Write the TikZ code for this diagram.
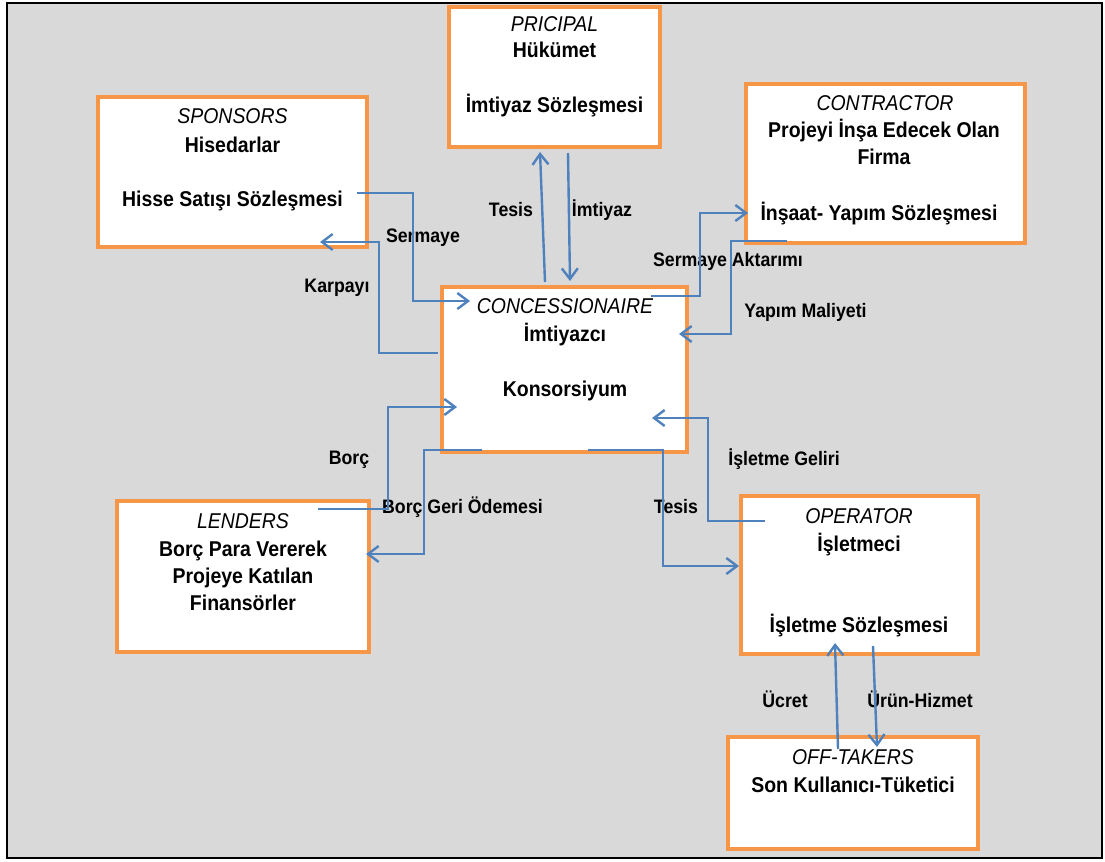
\documentclass[tikz,border=0pt]{standalone}
\usepackage{fontspec}
\setmainfont{Liberation Sans}
\usetikzlibrary{arrows.meta,fit}
\definecolor{bgGray}{HTML}{D9D9D9}
\definecolor{boxOrange}{HTML}{F79646}
\definecolor{flowBlue}{HTML}{4F81BD}
\newcommand\vstr[1]{\scalebox{1}[1.1]{#1}}
\begin{document}
\begin{tikzpicture}[x=0.75pt,y=-0.75pt,
  frame/.style={draw=black, line width=2.2pt, fill=bgGray, inner sep=0pt},
  party/.style={draw=boxOrange, line width=3pt, fill=white, inner sep=0pt},
  headtext/.style={anchor=base, inner sep=0pt, font=\fontsize{14.6pt}{16pt}\selectfont\itshape},
  bodytext/.style={anchor=base, inner sep=0pt, font=\fontsize{14.6pt}{16pt}\selectfont\bfseries},
  flowlabel/.style={anchor=base, inner sep=0pt, font=\fontsize{13.3pt}{15pt}\selectfont\bfseries},
  flow/.style={draw=flowBlue, line width=1.8pt, -{Straight Barb[length=8pt,width=12pt]}}
]
\useasboundingbox (0,0) rectangle (1105,862);
\fill[white] (0,0) rectangle (1105,862);
\node[frame, fit={(7,3) (1102,858)}] (bg) {};

% boxes
\node[party, fit={(449,7) (660,147)}] (pr) {};
\node[party, fit={(98,97) (367,247)}] (sp) {};
\node[party, fit={(746,84) (1025,243)}] (co) {};
\node[party, fit={(442,287) (687,452)}] (cc) {};
\node[party, fit={(117,501) (369,652)}] (le) {};
\node[party, fit={(741,496) (978,654)}] (op) {};
\node[party, fit={(728,737) (978,849)}] (ot) {};

% box texts
\node[headtext] (pr1) at (554.5,32) {\vstr{PRICIPAL}};
\node[bodytext] (pr2) at (554.5,58) {\vstr{Hükümet}};
\node[bodytext] (pr3) at (554.5,113) {\vstr{İmtiyaz Sözleşmesi}};

\node[headtext] (sp1) at (232.5,124) {\vstr{SPONSORS}};
\node[bodytext] (sp2) at (232.5,153) {\vstr{Hisedarlar}};
\node[bodytext] (sp3) at (232.5,207) {\vstr{Hisse Satışı Sözleşmesi}};

\node[headtext] (co1) at (885,111) {\vstr{CONTRACTOR}};
\node[bodytext] (co2) at (884,138) {\vstr{Projeyi İnşa Edecek Olan}};
\node[bodytext] (co3) at (884,165) {\vstr{Firma}};
\node[bodytext] (co4) at (879,221) {\vstr{İnşaat- Yapım Sözleşmesi}};

\node[headtext] (cc1) at (565,314) {\vstr{CONCESSIONAIRE}};
\node[bodytext] (cc2) at (565,342) {\vstr{İmtiyazcı}};
\node[bodytext] (cc3) at (565,397) {\vstr{Konsorsiyum}};

\node[headtext] (le1) at (243,528) {\vstr{LENDERS}};
\node[bodytext] (le2) at (243,556) {\vstr{Borç Para Vererek}};
\node[bodytext] (le3) at (243,583) {\vstr{Projeye Katılan}};
\node[bodytext] (le4) at (243,610) {\vstr{Finansörler}};

\node[headtext] (op1) at (859,523) {\vstr{OPERATOR}};
\node[bodytext] (op2) at (859,551) {\vstr{İşletmeci}};
\node[bodytext] (op3) at (859,632) {\vstr{İşletme Sözleşmesi}};

\node[headtext] (ot1) at (853,764) {\vstr{OFF-TAKERS}};
\node[bodytext] (ot2) at (853,792) {\vstr{Son Kullanıcı-Tüketici}};

% flow labels
\node[flowlabel] (lTesisA) at (511,217) {\vstr{Tesis}};
\node[flowlabel] (lImtiyaz) at (602,217) {\vstr{İmtiyaz}};
\node[flowlabel] (lSermaye) at (423,243) {\vstr{Sermaye}};
\node[flowlabel] (lKarpayi) at (337,293) {\vstr{Karpayı}};
\node[flowlabel] (lSermAkt) at (728,267) {\vstr{Sermaye Aktarımı}};
\node[flowlabel] (lYapim) at (805.5,318) {\vstr{Yapım Maliyeti}};
\node[flowlabel] (lBorc) at (349,464) {\vstr{Borç}};
\node[flowlabel] (lBorcGeri) at (462.5,513) {\vstr{Borç Geri Ödemesi}};
\node[flowlabel] (lTesisB) at (676,513) {\vstr{Tesis}};
\node[flowlabel] (lIsletme) at (784,465) {\vstr{İşletme Geliri}};
\node[flowlabel] (lUcret) at (785,707) {\vstr{Ücret}};
\node[flowlabel] (lUrun) at (920,707) {\vstr{Ürün-Hizmet}};

% connector end points
\coordinate (sermS) at (357,193);   \coordinate (sermE) at (470,301);
\coordinate (karS) at (438,353);    \coordinate (karE) at (320,242);
\coordinate (tesAS) at (545,282);   \coordinate (tesAE) at (540,152);
\coordinate (imtS) at (568,153);    \coordinate (imtE) at (570,281);
\coordinate (saS) at (651,296);     \coordinate (saE) at (748,213);
\coordinate (ymS) at (787,241);     \coordinate (ymE) at (679,334);
\coordinate (borS) at (318,509);    \coordinate (borE) at (457,407);
\coordinate (bgoS) at (482,450);    \coordinate (bgoE) at (366,554);
\coordinate (tesBS) at (588,450);   \coordinate (tesBE) at (739,566);
\coordinate (igS) at (765,521);     \coordinate (igE) at (652,418);
\coordinate (ucS) at (838,749);     \coordinate (ucE) at (835,643);
\coordinate (urS) at (873,646);     \coordinate (urE) at (877,747);

% connectors
\draw[flow] (sermS) -- ++(56,0) |- (sermE);
\draw[flow] (karS) -- ++(-59,0) |- (karE);
\draw[flow] (tesAS) -- (tesAE);
\draw[flow] (imtS) -- (imtE);
\draw[flow] (saS) -- ++(49,0) |- (saE);
\draw[flow] (ymS) -- ++(-56,0) |- (ymE);
\draw[flow] (borS) -- ++(70,0) |- (borE);
\draw[flow] (bgoS) -- ++(-58,0) |- (bgoE);
\draw[flow] (tesBS) -- ++(75,0) |- (tesBE);
\draw[flow] (igS) -- ++(-57,0) |- (igE);
\draw[flow] (ucS) -- (ucE);
\draw[flow] (urS) -- (urE);
\end{tikzpicture}
\end{document}
